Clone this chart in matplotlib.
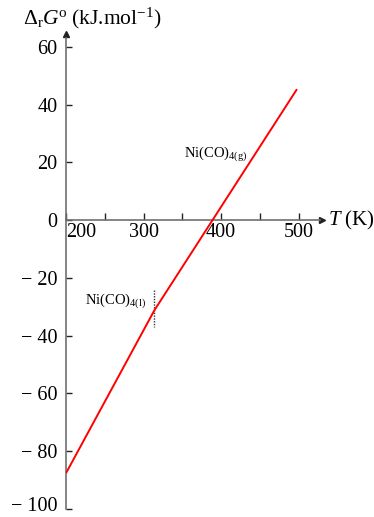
import numpy as np
import matplotlib
matplotlib.use('Agg')
import matplotlib.pyplot as plt
import matplotlib.transforms as mtransforms

plt.rcParams['font.family'] = ['Liberation Serif', 'DejaVu Serif']
plt.rcParams['mathtext.fontset'] = 'custom'
plt.rcParams['mathtext.rm'] = 'Liberation Serif'
plt.rcParams['mathtext.it'] = 'Liberation Serif:italic'

# data: liquid below the kink, gas above
T = [200, 314, 498]
dG = [-87.6, -31.2, 45.4]
T_boil = 314
boil_span = [-24, -37]

yticks = [60, 40, 20, 0, -20, -40, -60, -80, -100]
xticks_major = [200, 300, 400, 500]
xticks_minor = [250, 350, 450]

W, H = 374, 517
fig = plt.figure(figsize=(W / 100, H / 100), dpi=100)

# axes placed in pixels: T=200 at x=66, scale 0.775 px/K ; dG=-100 at y=509 (from top)
x0, xr = 66, 0.775
y0, yr = 509, 57.75 / 20
xlim = (200, 550)
ylim = (-100, 65)
ax = fig.add_axes([x0 / W, (H - y0) / H,
                   (xlim[1] - xlim[0]) * xr / W, (ylim[1] - ylim[0]) * yr / H])
ax.set_xlim(xlim)
ax.set_ylim(ylim)

ax.plot(T, dG, color='#ff0000', lw=1.4, solid_capstyle='butt', zorder=3)
ax.plot([T_boil, T_boil], boil_span, color='#333333', lw=1.0, ls=(0, (1, 1)), zorder=2)

axc = '#707070'
for s in ['top', 'right']:
    ax.spines[s].set_visible(False)
ax.spines['left'].set_position(('data', 200))
ax.spines['bottom'].set_position(('data', 0))
ax.spines['left'].set_color(axc)
ax.spines['bottom'].set_color(axc)
ax.spines['left'].set_linewidth(1.2)
ax.spines['bottom'].set_linewidth(1.2)
ax.spines['bottom'].set_bounds(200, 528)
ax.spines['left'].set_bounds(-100, 63)
ax.plot([530], [0], marker='>', ms=4.5, color='#222222', clip_on=False)
ax.plot([200], [64.5], marker='^', ms=4.5, color='#222222', clip_on=False)

ax.set_yticks(yticks)
ax.set_yticklabels([('\u2212 ' + str(-v)) if v < 0 else str(v) for v in yticks])
ax.tick_params(axis='y', direction='in', length=4, width=1, color='#222222',
               labelsize=14.5, pad=6)
# keep the lowest label inside the picture
lab = ax.get_yticklabels()[-1]
lab.set_transform(lab.get_transform() + mtransforms.ScaledTranslation(0, 5 / 100, fig.dpi_scale_trans))

ax.set_xticks(xticks_major + xticks_minor)
ax.set_xticklabels([str(v) for v in xticks_major] + [''] * len(xticks_minor))
ax.tick_params(axis='x', direction='in', length=5, width=1, color='#222222',
               labelsize=14.5, pad=2)
ax.get_xticklabels()[0].set_horizontalalignment('left')
ax.get_xticklabels()[0].set_x(203)

fig.text(23 / W, 1 - 18 / H, r'$\Delta_{\mathrm{r}}G$$^{\mathrm{o}}$ (kJ.mol$^{-1}$)',
         fontsize=15.5, va='center', ha='left')
fig.text(328 / W, 1 - 220 / H, r'$T$ (K)', fontsize=15, va='center', ha='left')

ax.text(352, 23, r'Ni(CO)$_{4(\mathrm{g})}$', fontsize=10.5, ha='left', va='center')
ax.text(225, -28, r'Ni(CO)$_{4(\mathrm{l})}$', fontsize=10.5, ha='left', va='center')

fig.savefig('out.png', dpi=100)
